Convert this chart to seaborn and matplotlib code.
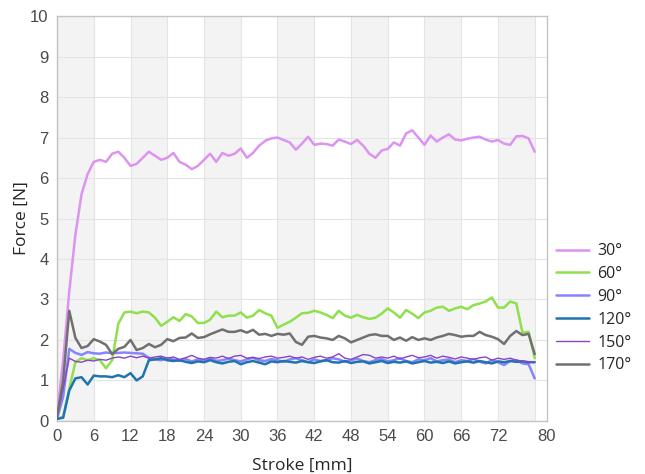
import numpy as np
import pandas as pd
import matplotlib
matplotlib.use('Agg')
import matplotlib.pyplot as plt
import seaborn as sns

# Stroke positions (mm)
stroke = list(range(0, 79))

# Force values [N] per angle
f30 = [0.15, 1.5, 3.2, 4.6, 5.6, 6.1, 6.4, 6.45, 6.4, 6.6,
       6.65, 6.5, 6.3, 6.35, 6.5, 6.65, 6.55, 6.45, 6.5, 6.62,
       6.4, 6.33, 6.22, 6.3, 6.45, 6.6, 6.4, 6.62, 6.55, 6.6,
       6.73, 6.5, 6.62, 6.8, 6.92, 6.98, 7.0, 6.94, 6.88, 6.7,
       6.85, 7.02, 6.82, 6.85, 6.84, 6.8, 6.95, 6.9, 6.84, 6.94,
       6.8, 6.6, 6.5, 6.68, 6.72, 6.88, 6.8, 7.1, 7.18, 7.0,
       6.82, 7.05, 6.9, 7.0, 7.08, 6.95, 6.93, 6.97, 7.0, 7.02,
       6.95, 6.9, 6.94, 6.85, 6.82, 7.03, 7.04, 6.98, 6.65]
f60 = [0.05, 0.1, 0.8, 1.45, 1.55, 1.5, 1.55, 1.5, 1.3, 1.5,
       2.4, 2.68, 2.7, 2.66, 2.7, 2.68, 2.55, 2.35, 2.45, 2.56,
       2.47, 2.64, 2.58, 2.42, 2.42, 2.5, 2.7, 2.56, 2.6, 2.6,
       2.68, 2.55, 2.6, 2.74, 2.66, 2.6, 2.3, 2.38, 2.45, 2.55,
       2.66, 2.67, 2.72, 2.68, 2.62, 2.54, 2.72, 2.6, 2.55, 2.62,
       2.56, 2.52, 2.55, 2.65, 2.78, 2.68, 2.55, 2.74, 2.65, 2.54,
       2.68, 2.72, 2.8, 2.82, 2.72, 2.78, 2.82, 2.76, 2.86, 2.9,
       2.95, 3.05, 2.8, 2.8, 2.95, 2.9, 2.18, 2.2, 1.55]
f90 = [0.05, 0.6, 1.78, 1.68, 1.63, 1.7, 1.67, 1.66, 1.69, 1.67,
       1.68, 1.69, 1.68, 1.67, 1.66, 1.56, 1.52, 1.5, 1.55, 1.52,
       1.48, 1.53, 1.47, 1.52, 1.5, 1.55, 1.48, 1.5, 1.54, 1.5,
       1.47, 1.52, 1.56, 1.5, 1.48, 1.53, 1.5, 1.46, 1.52, 1.55,
       1.5, 1.45, 1.52, 1.48, 1.5, 1.55, 1.52, 1.46, 1.5, 1.54,
       1.48, 1.45, 1.5, 1.53, 1.47, 1.5, 1.55, 1.48, 1.45, 1.52,
       1.5, 1.55, 1.47, 1.5, 1.52, 1.45, 1.5, 1.48, 1.53, 1.46,
       1.42, 1.5, 1.45, 1.38, 1.48, 1.5, 1.42, 1.4, 1.05]
f120 = [0.05, 0.08, 0.75, 1.05, 1.08, 0.9, 1.12, 1.1, 1.1, 1.08,
        1.13, 1.08, 1.18, 1.0, 1.1, 1.5, 1.52, 1.55, 1.5, 1.48,
        1.5, 1.46, 1.43, 1.47, 1.45, 1.5, 1.45, 1.42, 1.46, 1.48,
        1.4, 1.45, 1.48, 1.44, 1.4, 1.47, 1.45, 1.48, 1.46, 1.44,
        1.48, 1.45, 1.43, 1.47, 1.5, 1.45, 1.44, 1.48, 1.43, 1.46,
        1.47, 1.42, 1.45, 1.48, 1.43, 1.46, 1.44, 1.47, 1.42, 1.45,
        1.48, 1.44, 1.46, 1.43, 1.47, 1.42, 1.45, 1.47, 1.44, 1.48,
        1.45, 1.42, 1.47, 1.45, 1.48, 1.46, 1.47, 1.45, 1.45]
f150 = [0.1, 0.8, 1.55, 1.47, 1.45, 1.5, 1.48, 1.52, 1.5, 1.55,
        1.58, 1.55, 1.6, 1.56, 1.6, 1.55, 1.58, 1.6, 1.55, 1.58,
        1.52, 1.56, 1.62, 1.55, 1.52, 1.57, 1.55, 1.6, 1.54, 1.6,
        1.62, 1.55, 1.57, 1.54, 1.58, 1.6, 1.55, 1.57, 1.6, 1.55,
        1.58, 1.52, 1.57, 1.6, 1.55, 1.58, 1.66, 1.55, 1.52, 1.58,
        1.64, 1.62, 1.55, 1.58, 1.55, 1.6, 1.53, 1.58, 1.62, 1.56,
        1.58, 1.62, 1.55, 1.6, 1.57, 1.53, 1.58, 1.55, 1.52, 1.56,
        1.58, 1.5, 1.55, 1.52, 1.55, 1.5, 1.48, 1.46, 1.45]
f170 = [0.1, 1.0, 2.72, 2.05, 1.8, 1.85, 2.02, 1.96, 1.88, 1.65,
        1.78, 1.83, 2.0, 1.75, 1.8, 1.9, 1.82, 1.88, 2.02, 1.97,
        2.05, 2.06, 2.16, 2.05, 2.07, 2.14, 2.2, 2.26, 2.2, 2.2,
        2.24, 2.18, 2.25, 2.13, 2.15, 2.1, 2.15, 2.13, 2.16, 1.95,
        1.88, 2.08, 2.1, 2.06, 2.04, 2.0, 2.1, 2.04, 1.94, 2.0,
        2.06, 2.12, 2.14, 2.1, 2.1, 2.0, 2.06, 1.98, 2.07, 2.0,
        2.04, 2.0, 2.06, 2.1, 2.15, 2.12, 2.08, 2.1, 2.1, 2.2,
        2.12, 2.08, 2.02, 1.9, 2.1, 2.22, 2.12, 2.15, 1.65]

labels = ['30°', '60°', '90°', '120°', '150°', '170°']
series = [f30, f60, f90, f120, f150, f170]
colors = ['#dc94f0', '#8ee04c', '#8585ff', '#1f74b0', '#8a44c4', '#707070']
widths = [1.8, 1.8, 1.8, 1.8, 1.0, 1.8]

xticks = [0, 6, 12, 18, 24, 30, 36, 42, 48, 54, 60, 66, 72, 80]
yticks = list(range(0, 11))

sns.set_style('white')
plt.rcParams['font.family'] = ['Open Sans', 'DejaVu Sans']

fig = plt.figure(figsize=(6.45, 4.74), dpi=100)
ax = fig.add_axes([0.0884, 0.112, 0.7596, 0.854])

# alternating background bands and grid
for start in range(0, 78, 12):
    ax.axvspan(start, start + 6, color='#f3f3f3', zorder=0, lw=0)
for gx in range(0, 79, 6):
    ax.axvline(gx, color='#e4e4e4', lw=0.8, zorder=0.5)
for gy in yticks:
    ax.axhline(gy, color='#e4e4e4', lw=0.8, zorder=0.5)

for lab, vals, col, lw in zip(labels, series, colors, widths):
    sns.lineplot(x=stroke, y=vals, color=col, lw=lw, label=lab, ax=ax, zorder=3)

ax.set_xlim(0, 80)
ax.set_ylim(0, 10)
ax.set_xticks(xticks)
ax.set_yticks(yticks)
ax.tick_params(length=0, labelsize=12, labelcolor='#4a4a4a', pad=6)
for t in ax.get_xticklabels() + ax.get_yticklabels():
    t.set_family('Liberation Sans')
for sp in ax.spines.values():
    sp.set_color('#c4c4c4')
    sp.set_linewidth(1.0)

ax.set_xlabel('Stroke [mm]', fontsize=12.5, labelpad=10)
ax.set_ylabel('Force [N]', fontsize=12.5, labelpad=0)

ax.legend(loc='upper left', bbox_to_anchor=(1.005, 0.455), frameon=False,
          fontsize=11.5, handlelength=2.1, labelspacing=0.43, handletextpad=0.5,
          borderaxespad=0)

fig.savefig('out.png', dpi=100)
